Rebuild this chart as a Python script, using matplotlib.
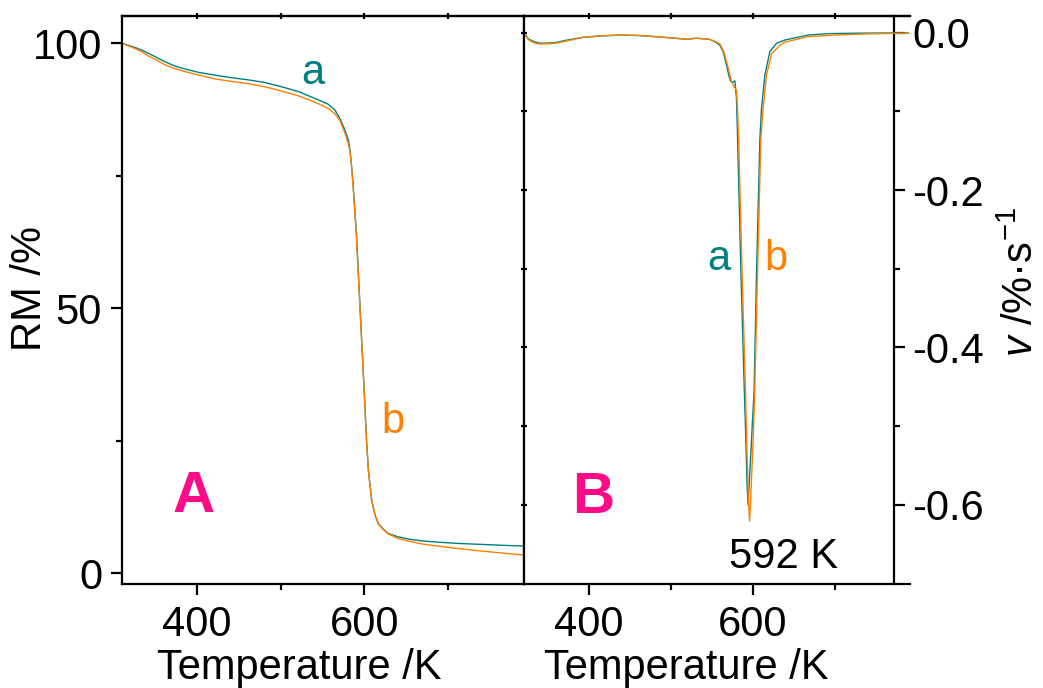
import matplotlib
matplotlib.use("Agg")
import matplotlib.pyplot as plt
from matplotlib.ticker import FixedLocator, FuncFormatter, NullFormatter

# ---------------- data ----------------
# Panel A: residual mass (TG) vs temperature
temp_A = [310, 318, 326, 334, 342, 352, 362, 372, 382, 392, 402, 421, 441, 461, 481, 501,
          521, 541, 557, 565, 571, 577, 581, 583, 584.2, 586.5, 590.7, 594, 597, 600,
          602.8, 605, 608.9, 613, 617, 623, 629, 640, 655, 670, 690, 710, 740, 770, 790]
rm_a = [100.0, 99.6, 99.2, 98.7, 98.1, 97.3, 96.5, 95.8, 95.3, 94.9, 94.5, 94.0, 93.5, 93.1,
        92.6, 91.8, 90.9, 89.6, 88.5, 87.4, 85.8, 83.6, 81.8, 79.9, 78.0, 74.0, 64.2, 53.5,
        44.0, 34.5, 25.2, 19.5, 13.8, 11.0, 9.4, 8.3, 7.5, 6.9, 6.4, 6.1, 5.85, 5.65, 5.45,
        5.25, 5.15]
rm_b = [100.0, 99.5, 99.0, 98.4, 97.6, 96.8, 95.9, 95.3, 94.8, 94.4, 94.0, 93.3, 92.8, 92.4,
        91.8, 91.0, 90.1, 88.9, 87.7, 86.7, 85.4, 83.0, 81.1, 79.5, 78.0, 73.5, 63.5, 53.0,
        43.8, 34.3, 25.0, 19.4, 13.8, 11.0, 9.3, 8.2, 7.4, 6.6, 6.0, 5.5, 5.1, 4.7, 4.2,
        3.75, 3.45]

# Panel B: mass-loss rate (DTG) vs temperature
temp_Ba = [320, 321, 326, 333, 341, 358, 375, 392, 415, 438, 460, 481, 505, 519, 531, 547,
           553.5, 559.6, 563.7, 567.8, 570.6, 573, 575.9, 578, 578.8, 580, 581.3, 585.5,
           589.6, 591.5, 593, 594.2, 596, 598.4, 601.6, 604.5, 608.6, 610.6, 614.7, 620.8,
           629, 639, 667.6, 692, 730, 790]
v_a = [0.004, -0.001, -0.008, -0.0115, -0.0135, -0.0127, -0.009, -0.006, -0.004, -0.003,
       -0.0035, -0.005, -0.007, -0.0084, -0.007, -0.0084, -0.0114, -0.0156, -0.024, -0.041,
       -0.054, -0.062, -0.063, -0.061, -0.069, -0.083, -0.13, -0.306,
       -0.454, -0.518, -0.575, -0.600, -0.565, -0.518, -0.454, -0.306, -0.136, -0.096,
       -0.054, -0.024, -0.0135, -0.0093, -0.003, -0.0012, -0.0006, -0.0003]
temp_Bb = [320, 321, 326, 333, 341, 358, 375, 392, 415, 438, 460, 481, 505, 519, 531, 547,
           553.5, 559.6, 564.5, 569, 572, 574, 577.1, 580, 581.3, 582.9, 586.9, 591, 592.5,
           594.5, 596, 597.5, 600.4, 602.4, 605.7, 609.8, 612.6, 616.7, 622.9, 633, 639,
           667.6, 700, 740, 790]
v_b = [0.004, -0.001, -0.009, -0.013, -0.0145, -0.0135, -0.010, -0.006, -0.004, -0.003,
       -0.0035, -0.005, -0.007, -0.0084, -0.007, -0.0084, -0.011, -0.014, -0.024, -0.041,
       -0.054, -0.062, -0.069, -0.073, -0.096, -0.143, -0.306, -0.454, -0.518,
       -0.59, -0.621, -0.59, -0.518, -0.454, -0.306, -0.136, -0.096, -0.054, -0.027,
       -0.016, -0.012, -0.005, -0.003, -0.0015, -0.0006]

xticks_major = [400, 600]
xticks_minor = [500, 700]
xticks_top = [400, 500, 600, 700]
yA_major = [0, 50, 100]
yA_minor = [25, 75]
yB_major = [0.0, -0.2, -0.4, -0.6]
yB_minor = [-0.1, -0.3, -0.5]
yB_left = [0.0, -0.1, -0.2, -0.3, -0.4, -0.5, -0.6]

TEAL = "#008080"
ORANGE = "#FF8000"
MAGENTA = "#FF0A87"

# ---------------- style ----------------
plt.rcParams["font.family"] = ["Liberation Sans", "DejaVu Sans"]
plt.rcParams["axes.unicode_minus"] = False
plt.rcParams["mathtext.fontset"] = "custom"
plt.rcParams["mathtext.rm"] = "Liberation Sans"
plt.rcParams["mathtext.it"] = "Liberation Sans:italic"
plt.rcParams["mathtext.bf"] = "Liberation Sans:bold"

W, H = 1043, 688
fig = plt.figure(figsize=(W / 100, H / 100), dpi=100)

def fx(px):
    return px / W

def fy(py):
    return 1 - py / H

top, bottom = 15.7, 584.3
xl, xm, xr = 121.6, 523.6, 910.0
axA = fig.add_axes([fx(xl), fy(bottom), fx(xm) - fx(xl), (bottom - top) / H])
axB = fig.add_axes([fx(xm), fy(bottom), fx(xr) - fx(xm), (bottom - top) / H])

FS = 30
SLW = 1.6
LW = 1.0

for ax in (axA, axB):
    for s in ax.spines.values():
        s.set_linewidth(SLW)

# ---------------- panel A ----------------
axA.plot(temp_A, rm_a, color=TEAL, lw=LW)
axA.plot(temp_A, rm_b, color=ORANGE, lw=LW)
axA.set_xlim(309.8, 790.7)
axA.set_ylim(-2.08, 105.2)
axA.xaxis.set_major_locator(FixedLocator(xticks_major))
axA.xaxis.set_minor_locator(FixedLocator(xticks_minor))
axA.yaxis.set_major_locator(FixedLocator(yA_major))
axA.yaxis.set_minor_locator(FixedLocator(yA_minor))
axA.tick_params(axis="both", which="major", direction="out", length=8, width=SLW,
                labelsize=FS, top=False, right=False)
axA.tick_params(axis="both", which="minor", direction="out", length=4, width=SLW,
                top=False, right=False)
axA.tick_params(axis="x", which="major", pad=7)
axA.tick_params(axis="y", which="major", pad=6)

secA = axA.secondary_xaxis("top")
secA.xaxis.set_major_locator(FixedLocator(xticks_top))
secA.xaxis.set_major_formatter(NullFormatter())
secA.tick_params(direction="inout", length=4, width=SLW)
secA.spines["top"].set_linewidth(SLW)

axA.text(538, 92.4, "a", color=TEAL, fontsize=FS, ha="center", va="baseline")
axA.text(634, 26.4, "b", color=ORANGE, fontsize=FS, ha="center", va="baseline")
axA.text(396, 11.6, "A", color=MAGENTA, fontsize=42, fontweight="bold",
         ha="center", va="baseline")

# ---------------- panel B ----------------
axB.plot(temp_Ba, v_a, color=TEAL, lw=LW)
axB.plot(temp_Bb, v_b, color=ORANGE, lw=LW)
axB.set_xlim(320, 792)
axB.set_ylim(-0.701, 0.0216)
axB.spines["right"].set_visible(False)
axB.xaxis.set_major_locator(FixedLocator(xticks_major))
axB.xaxis.set_minor_locator(FixedLocator(xticks_minor))
axB.tick_params(axis="x", which="major", direction="out", length=8, width=SLW,
                labelsize=FS, top=False, pad=7)
axB.tick_params(axis="x", which="minor", direction="out", length=4, width=SLW, top=False)
axB.yaxis.set_major_locator(FixedLocator(yB_left))
axB.yaxis.set_minor_locator(FixedLocator([]))
axB.tick_params(axis="y", which="major", direction="inout", length=4, width=SLW,
                left=True, right=False, labelleft=False)

secBt = axB.secondary_xaxis("top")
secBt.xaxis.set_major_locator(FixedLocator(xticks_top))
secBt.xaxis.set_major_formatter(NullFormatter())
secBt.tick_params(direction="inout", length=4, width=SLW)
secBt.spines["top"].set_linewidth(SLW)

loc_r = (894.3 - xm) / (xr - xm)
secBr = axB.secondary_yaxis(loc_r)
secBr.yaxis.set_major_locator(FixedLocator(yB_major))
secBr.yaxis.set_minor_locator(FixedLocator(yB_minor))
secBr.yaxis.set_major_formatter(FuncFormatter(lambda v, p: f"{v:.1f}" if abs(v) > 1e-9 else "0.0"))
secBr.tick_params(which="major", direction="out", length=8, width=SLW, labelsize=FS, pad=5)
secBr.tick_params(which="minor", direction="out", length=4, width=SLW)
for s in secBr.spines.values():
    s.set_linewidth(SLW)

axB.text(558.8, -0.3015, "a", color=TEAL, fontsize=FS, ha="center", va="baseline")
axB.text(628, -0.3015, "b", color=ORANGE, fontsize=FS, ha="center", va="baseline")
axB.text(405, -0.611, "B", color=MAGENTA, fontsize=42, fontweight="bold",
         ha="center", va="baseline")
axB.text(637.5, -0.680, "592 K", color="black", fontsize=FS, ha="center", va="baseline")

# ---------------- axis titles ----------------
fig.text(fx(299), fy(679), "Temperature /K", fontsize=FS, ha="center", va="baseline")
fig.text(fx(686), fy(679), "Temperature /K", fontsize=FS, ha="center", va="baseline")
fig.text(fx(30), fy(288), "RM /%", fontsize=FS, rotation=90, ha="center", va="center")
fig.text(fx(1022), fy(282), r"$v$ /%·s$^{-1}$", fontsize=FS, rotation=90,
         ha="center", va="center")

fig.savefig("out.png", dpi=100)
